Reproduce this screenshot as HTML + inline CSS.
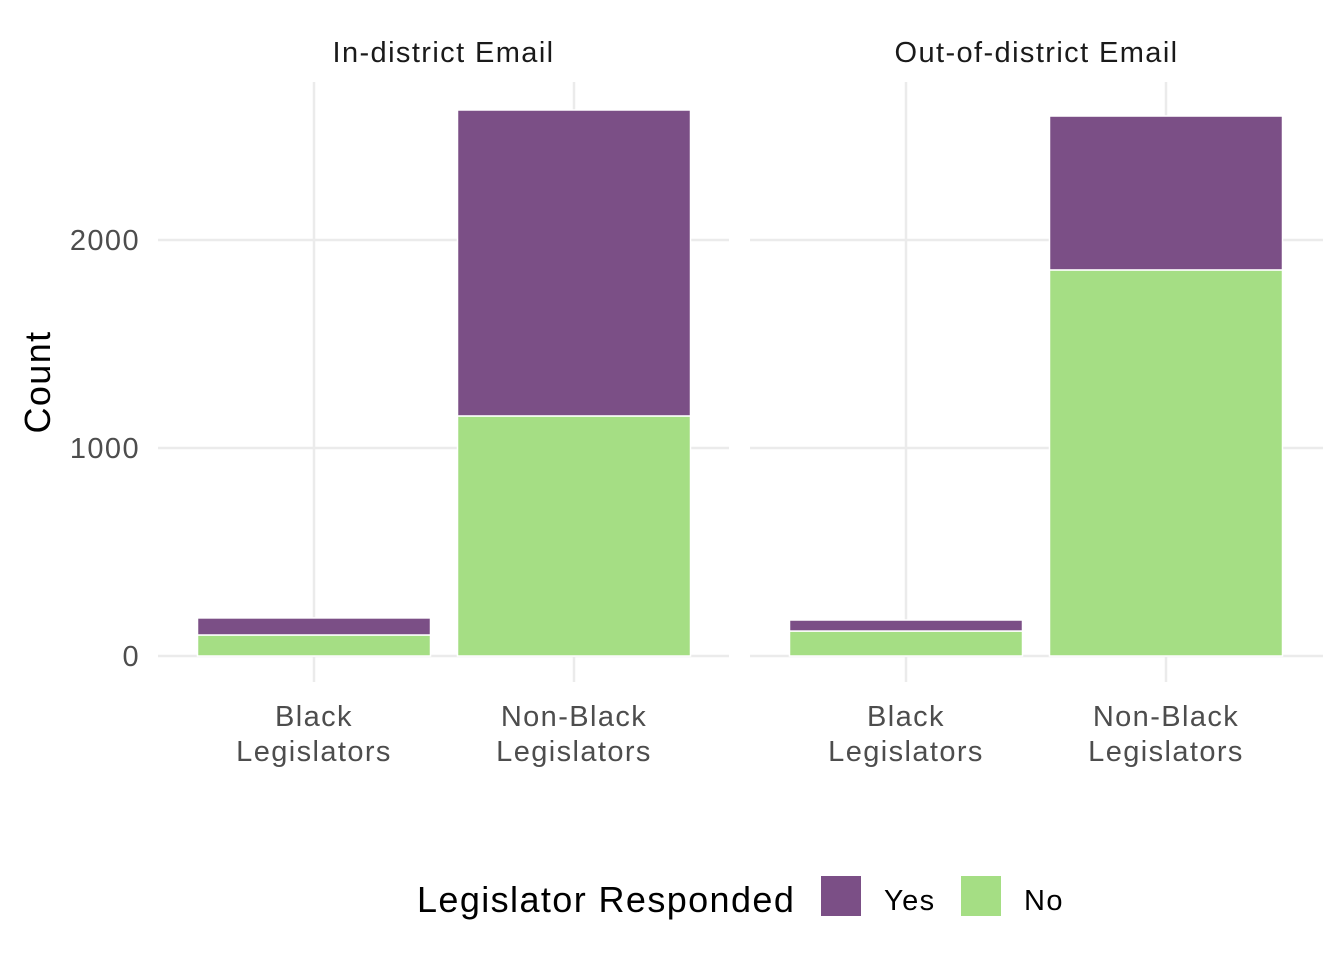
<!DOCTYPE html>
<html><head><meta charset="utf-8"><style>
body{margin:0;background:#fff}
svg text{font-family:"Liberation Sans",Arial,sans-serif;letter-spacing:1.4px}
</style></head><body>
<svg id="chart" width="1344" height="960"></svg>
<script>
const panels = ["In-district Email", "Out-of-district Email"];
const categories = ["Black\nLegislators", "Non-Black\nLegislators"];
const noValues = [[101, 1154], [120, 1856]];
const yesValues = [[82, 1471], [53, 740]];
const yTicks = [0, 1000, 2000];

const NS = "http://www.w3.org/2000/svg";
const svg = document.getElementById("chart");
function el(tag, attrs, parent) {
  const e = document.createElementNS(NS, tag);
  for (const k in attrs) e.setAttribute(k, attrs[k]);
  (parent || svg).appendChild(e);
  return e;
}
const y0 = 656, pxPer = 0.208;
const yScale = v => y0 - v * pxPer;
const panelX = [158, 750], panelW = [571, 573];
const catCenter = (p, i) => panelX[p] + 156 + i * 260;
const barW = 233;

panels.forEach((title, p) => {
  const g = el("g", {});
  
  
  yTicks.forEach(t => {
    const l = el("line", {x1: panelX[p], x2: panelX[p] + panelW[p], y1: yScale(t), y2: yScale(t), stroke: "#ebebeb", "stroke-width": 2.5}, g);
    
    
  });
  categories.forEach((c, i) => {
    const l = el("line", {x1: catCenter(p, i), x2: catCenter(p, i), y1: 82, y2: 682, stroke: "#ebebeb", "stroke-width": 2.5}, g);
    
    
  });
  const tt = el("text", {x: panelX[p] + panelW[p] / 2, y: 62, "text-anchor": "middle", "font-size": 29, fill: "#1a1a1a"}, g);
  tt.textContent = title;
  
  
  categories.forEach((c, i) => {
    const cx = catCenter(p, i);
    const n = noValues[p][i], yv = yesValues[p][i];
    const rn = el("rect", {x: cx - barW / 2, width: barW, y: yScale(n), height: n * pxPer, fill: "#a5de84", stroke: "#fff", "stroke-width": 1.5}, g);
    
    
    const ry = el("rect", {x: cx - barW / 2, width: barW, y: yScale(n + yv), height: yv * pxPer, fill: "#7b4f86", stroke: "#fff", "stroke-width": 1.5}, g);
    
    
    c.split("\n").forEach((line, k) => {
      const t = el("text", {x: cx, y: 726 + k * 35, "text-anchor": "middle", "font-size": 29, fill: "#4d4d4d"}, g);
      t.textContent = line;
      
      
    });
  });
});
yTicks.forEach(t => {
  const tx = el("text", {x: 140, y: yScale(t) + 10, "text-anchor": "end", "font-size": 29, fill: "#4d4d4d", "letter-spacing": "2px"});
  tx.textContent = t;
  
  
});
const yt = el("text", {x: 50, y: 382, "text-anchor": "middle", "font-size": 36, fill: "#000", transform: "rotate(-90 50 382)"});
yt.textContent = "Count";



const lg = el("g", {});


const lt = el("text", {x: 417, y: 912, "font-size": 36, fill: "#000", "letter-spacing": "1.5px"}, lg);
lt.textContent = "Legislator Responded";


[["Yes", "#7b4f86", 821], ["No", "#a5de84", 961]].forEach(([lab, col, x]) => {
  const r = el("rect", {x: x, y: 876, width: 40, height: 40, fill: col}, lg);
  
  
  const t = el("text", {x: x + 63, y: 910, "font-size": 29, fill: "#000"}, lg);
  t.textContent = lab;
  
  
});
</script>
</body></html>
